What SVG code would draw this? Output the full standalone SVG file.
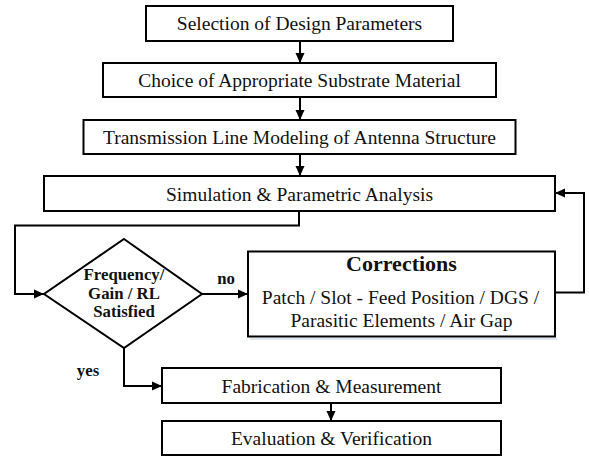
<svg xmlns="http://www.w3.org/2000/svg" width="589" height="456" viewBox="0 0 589 456">
<style>
.box{fill:#fff;stroke:#000;stroke-width:2}
.sh{fill:none;stroke:#dfe7f1;stroke-width:2}
.t{font-family:"Liberation Serif","Times New Roman",serif;font-size:19.5px;fill:#111;text-anchor:middle}
.b{font-family:"Liberation Serif","Times New Roman",serif;font-weight:bold;font-size:16.8px;fill:#111;text-anchor:middle}
.c{fill:none;stroke:#000;stroke-width:2}
</style>
<defs>
<marker id="ah" markerWidth="10" markerHeight="10" refX="10" refY="5" orient="auto" markerUnits="userSpaceOnUse">
<path d="M0,0.5 L10,5 L0,9.5 Z" fill="#000"/>
</marker>
</defs>
<rect width="589" height="456" fill="#fff"/>
<g id="connectors">
<line class="c" x1="300" y1="41" x2="300" y2="63" marker-end="url(#ah)"/>
<line class="c" x1="300" y1="97" x2="300" y2="120" marker-end="url(#ah)"/>
<line class="c" x1="300" y1="154" x2="300" y2="176" marker-end="url(#ah)"/>
<polyline class="c" points="299,211 299,225.5 15,225.5 15,294 44,294" marker-end="url(#ah)"/>
<line class="c" x1="202" y1="294" x2="248" y2="294" marker-end="url(#ah)"/>
<polyline class="c" points="555,292.5 584,292.5 584,193 555,193" marker-end="url(#ah)"/>
<polyline class="c" points="124,348 124,386 162,386" marker-end="url(#ah)"/>
<line class="c" x1="331" y1="403" x2="331" y2="421" marker-end="url(#ah)"/>
<text class="b" x="226" y="284">no</text>
<text class="b" x="88" y="376">yes</text>
</g>
<g id="n1">
<rect class="box" x="146" y="6" width="307" height="35"/>
<text class="t" x="299.5" y="30">Selection of Design Parameters</text>
</g>
<g id="n2">
<rect class="box" x="103" y="63" width="393" height="34"/>
<text class="t" x="299.5" y="87">Choice of Appropriate Substrate Material</text>
</g>
<g id="n3">
<rect class="box" x="83.5" y="120" width="432" height="34"/>
<text class="t" x="299.5" y="144">Transmission Line Modeling of Antenna Structure</text>
</g>
<g id="n4">
<rect class="box" x="44" y="176" width="511" height="35"/>
<text class="t" x="299.5" y="200.5">Simulation &amp; Parametric Analysis</text>
</g>
<g id="n5">
<polygon class="box" points="124,239 202,294 124,348 44,294"/>
<text class="b" x="124" y="280">Frequency/</text>
<text class="b" x="124" y="298.5">Gain / RL</text>
<text class="b" x="124" y="316.5">Satisfied</text>
</g>
<g id="n6">
<line class="sh" x1="250" y1="339" x2="557" y2="339"/>
<rect class="box" x="248" y="251.5" width="307" height="85"/>
<text class="b" x="401.5" y="271" style="font-size:22px">Corrections</text>
<text class="t" x="400.5" y="304">Patch / Slot - Feed Position / DGS /</text>
<text class="t" x="401.5" y="327">Parasitic Elements / Air Gap</text>
</g>
<g id="n7">
<rect class="box" x="162" y="368" width="339" height="35"/>
<text class="t" x="331.5" y="392.5">Fabrication &amp; Measurement</text>
</g>
<g id="n8">
<rect class="box" x="162" y="421" width="339" height="34"/>
<text class="t" x="331.5" y="445">Evaluation &amp; Verification</text>
</g>
</svg>
